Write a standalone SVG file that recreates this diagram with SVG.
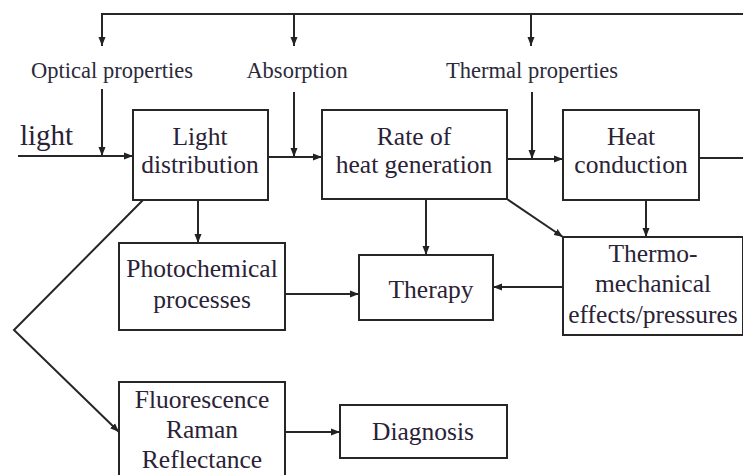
<svg xmlns="http://www.w3.org/2000/svg" width="743" height="475" viewBox="0 0 743 475">
<style>
  .box { fill: #ffffff; stroke: #262626; stroke-width: 2; }
  .c { fill: none; stroke: #262626; stroke-width: 2; }
  .t { font-family: 'Liberation Serif', 'DejaVu Serif', 'Times New Roman', Times, serif; font-size: 25.5px; fill: #2a2236; text-anchor: middle; }
  .lbl { font-family: 'Liberation Serif', 'DejaVu Serif', 'Times New Roman', Times, serif; font-size: 22.5px; fill: #2a2a3a; text-anchor: middle; }
</style>
<defs>
  <marker id="ah" markerWidth="10" markerHeight="8" refX="9" refY="4" orient="auto" markerUnits="userSpaceOnUse">
    <path d="M0,0.5 L9,4 L0,7.5 Z" fill="#222222"/>
  </marker>
</defs>
<rect x="0" y="0" width="743" height="475" fill="#ffffff"/>

<g id="connectors">
  <path class="c" d="M743,14 L102,14 L102,46" marker-end="url(#ah)"/>
  <path class="c" d="M294,14 L294,46" marker-end="url(#ah)"/>
  <path class="c" d="M531,14 L531,46" marker-end="url(#ah)"/>
  <path class="c" d="M102,89 L102,156" marker-end="url(#ah)"/>
  <path class="c" d="M294,92 L294,157" marker-end="url(#ah)"/>
  <path class="c" d="M532,92 L532,159" marker-end="url(#ah)"/>
  <path class="c" d="M18,156 L133,156" marker-end="url(#ah)"/>
  <path class="c" d="M268,157 L322,157" marker-end="url(#ah)"/>
  <path class="c" d="M507,159 L563,159" marker-end="url(#ah)"/>
  <path class="c" d="M699,158 L743,158"/>
  <path class="c" d="M198,200 L198,243" marker-end="url(#ah)"/>
  <path class="c" d="M426,199 L426,255" marker-end="url(#ah)"/>
  <path class="c" d="M646,200 L646,237" marker-end="url(#ah)"/>
  <path class="c" d="M507,199 L563,237" marker-end="url(#ah)"/>
  <path class="c" d="M285,294 L359,294" marker-end="url(#ah)"/>
  <path class="c" d="M563,287 L493,287" marker-end="url(#ah)"/>
  <path class="c" d="M143,200 L14,330 L119,432" marker-end="url(#ah)"/>
  <path class="c" d="M285,432 L340,432" marker-end="url(#ah)"/>
</g>

<g id="labels">
  <text class="lbl" x="112" y="78">Optical properties</text>
  <text class="lbl" x="297" y="78">Absorption</text>
  <text class="lbl" x="532" y="78">Thermal properties</text>
  <text class="t" x="20" y="145" style="text-anchor:start;font-size:29px">light</text>
</g>

<g id="light-distribution">
  <rect class="box" x="133" y="110" width="135" height="90"/>
  <text class="t" x="200" y="145">Light</text>
  <text class="t" x="200" y="173">distribution</text>
</g>

<g id="rate-of-heat-generation">
  <rect class="box" x="322" y="110" width="185" height="89"/>
  <text class="t" x="414" y="145">Rate of</text>
  <text class="t" x="414" y="173">heat generation</text>
</g>

<g id="heat-conduction">
  <rect class="box" x="563" y="110" width="136" height="90"/>
  <text class="t" x="631" y="145">Heat</text>
  <text class="t" x="631" y="173">conduction</text>
</g>

<g id="photochemical-processes">
  <rect class="box" x="119" y="243" width="166" height="87"/>
  <text class="t" x="202" y="277">Photochemical</text>
  <text class="t" x="202" y="308">processes</text>
</g>

<g id="therapy">
  <rect class="box" x="359" y="255" width="134" height="65"/>
  <text class="t" x="431" y="298">Therapy</text>
</g>

<g id="thermo-mechanical">
  <rect class="box" x="563" y="237" width="180" height="98"/>
  <text class="t" x="653" y="262">Thermo-</text>
  <text class="t" x="653" y="292">mechanical</text>
  <text class="t" x="653" y="323">effects/pressures</text>
</g>

<g id="fluorescence">
  <rect class="box" x="119" y="382" width="166" height="100"/>
  <text class="t" x="202" y="408">Fluorescence</text>
  <text class="t" x="202" y="438">Raman</text>
  <text class="t" x="202" y="468">Reflectance</text>
</g>

<g id="diagnosis">
  <rect class="box" x="340" y="405" width="167" height="53"/>
  <text class="t" x="423" y="440">Diagnosis</text>
</g>
</svg>
